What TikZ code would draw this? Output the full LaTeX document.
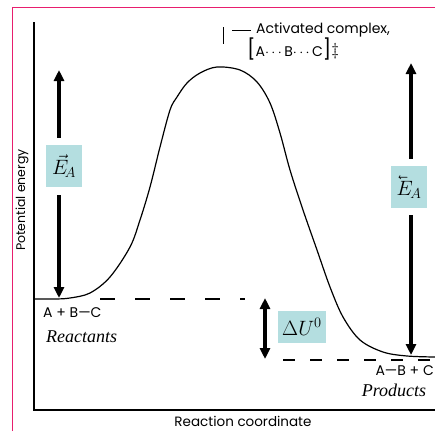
\documentclass[tikz,border=0pt]{standalone}
\usepackage{amsmath}
\usepackage{graphicx}
\usepackage{fontspec}
\setmainfont{Poppins}
\newfontfamily\handfont{Liberation Serif}
\usetikzlibrary{arrows.meta,positioning,calc}
\definecolor{frame}{RGB}{232,30,110}
\definecolor{paleb}{RGB}{180,222,224}
\newcommand{\lvec}[1]{\reflectbox{$\vec{\reflectbox{$#1$}}$}}

\begin{document}
\begin{tikzpicture}[x=1pt,y=-1pt,
      axis/.style={line width=1.8pt},
      curve/.style={line width=1.2pt,line join=round},
      lvl/.style={line width=1.5pt},
      ar/.style={-{Triangle[length=11pt,width=10pt]},line width=3.5pt},
      dar/.style={ar,{Triangle[length=11pt,width=10pt]}-{Triangle[length=11pt,width=10pt]}},
      tag/.style={fill=paleb,inner sep=0pt,minimum width=36pt,minimum height=42pt,
                  font=\fontsize{20}{22}\selectfont},
      txt/.style={inner sep=0pt,font=\fontsize{14}{16}\selectfont},
      hand/.style={inner sep=0pt,font=\handfont\itshape\fontsize{18}{20}\selectfont}]
      \useasboundingbox (0,0) rectangle (435,431);
      \draw[frame,line width=1pt] (12,431) -- (12,7) -- (435,7);
      % axes
      \coordinate (orig) at (34,410);
      \draw[axis] (34,22) -- (orig) -- (435,410);
      \node[txt,rotate=90,font=\fontsize{12.5}{14}\selectfont] (ylab) at (22,200) {Potential energy};
      \node[txt,font=\fontsize{13.5}{15}\selectfont] (xlab) at (243,421) {Reaction coordinate};
      % energy profile
      \draw[curve] plot[smooth,tension=0.55] coordinates {(34,299) (55,299) (70,298) (90,293)
        (110,277) (130,247) (140,220) (150,187) (160,147) (170,110) (177,97) (187,83) (200,73)
        (217,67) (240,70) (257,82) (270,103) (280,133) (290,170) (303,210) (317,250) (330,287)
        (343,317) (360,340) (383,352) (407,356) (435,357)};
      \draw[lvl,dash pattern=on 15pt off 20pt] (100,299) -- (245,299);
      \draw[lvl,dash pattern=on 12pt off 15pt] (283,360) -- (435,360);
      % activated complex
      \node[txt,anchor=west] (actc) at (256,30) {Activated complex,};
      \node[txt,anchor=west] (cplx) at (247,49) {{\fontsize{20}{20}\selectfont[}A$\cdots$B$\cdots$C{\fontsize{20}{20}\selectfont]}\raisebox{1pt}{\fontsize{16}{16}\selectfont$\ddagger$}};
      \coordinate (peak) at (223,27);
      \draw[line width=0.8pt] (peak) -- ++(0,17);
      \draw[line width=0.8pt] (actc.west) ++(-5,0) -- ++(-19,0);
      % species
      \node[txt,anchor=west] (reac) at (43,313) {A + B—C};
      \node[hand,anchor=west] (reacn) at (46,337) {Reactants};
      \node[txt,anchor=east] (prod) at (434,371) {A—B + C};
      \node[hand] (prodn) at (394,390) {Products};
      % energies
      \node[tag] (efwd) at (64,166) {$\vec{E}_{\!A}$};
      \node[tag] (erev) at (409,187) {\lvec{E}$_{\!A}$};
      \node[tag,minimum width=48pt,minimum height=32pt] (du) at (302,327) {$\Delta U^0$};
      \coordinate (ftop) at (59,70); \coordinate (fbot) at (59,298);
      \coordinate (rtop) at (411,63); \coordinate (rbot) at (411,355);
      \coordinate (dtop) at (265,298); \coordinate (dbot) at (265,359);
      \draw[ar,shorten <=7pt] (efwd.north -| ftop) -- (ftop);
      \draw[ar,shorten <=8pt] (efwd.south -| fbot) -- (fbot);
      \draw[ar,shorten <=7pt] (erev.north -| rtop) -- (rtop);
      \draw[ar,shorten <=7pt] (erev.south -| rbot) -- (rbot);
      \draw[dar] (dtop) -- (dbot);
    \end{tikzpicture}
\end{document}
